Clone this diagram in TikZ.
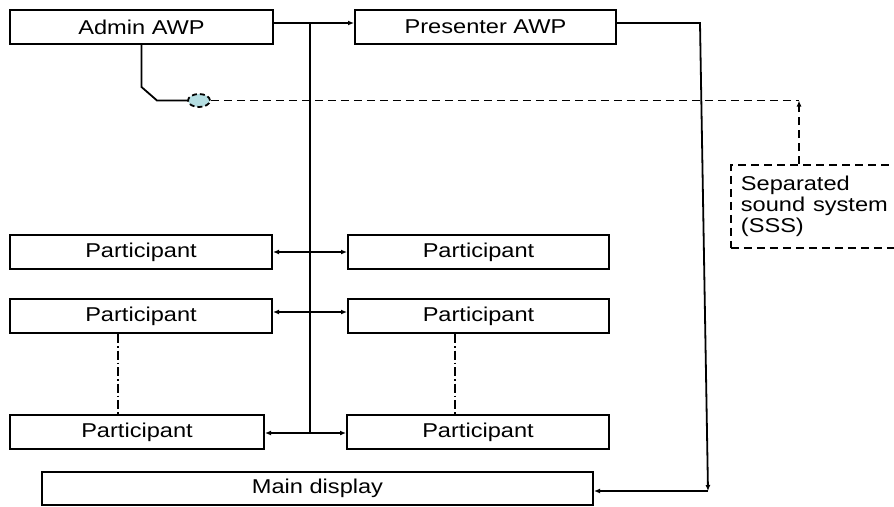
\documentclass[tikz,border=0pt]{standalone}
\usepackage{fontspec}
\usepackage{graphicx}
\setmainfont{Liberation Sans}
\usetikzlibrary{arrows.meta,shapes.geometric}
\newcommand\sx[1]{\scalebox{1.18}[1]{#1}}
\definecolor{lightcy}{HTML}{B5DEE2}
\begin{document}
\begin{tikzpicture}[x=1pt,y=-1pt,
  box/.style={draw,line width=2pt,inner sep=0pt,minimum height=34pt,font=\fontsize{20}{20}\selectfont},
  conn/.style={line width=1.8pt},
  tip/.style={-{Latex[length=6pt,width=5pt]}},
  btip/.style={{Latex[length=6pt,width=5pt]}-{Latex[length=6pt,width=5pt]}},
  dsh/.style={line width=1.8pt,dash pattern=on 8pt off 5pt},
  ddot/.style={line width=1.6pt,dash pattern=on 9pt off 3pt on 1.5pt off 3pt}]
\useasboundingbox (0,0) rectangle (894,506);
\fill[white] (0,0) rectangle (894,506);

\node[box,minimum width=263pt] (admin) at (141.5,27) {\sx{Admin AWP}};
\node[box,minimum width=261pt] (pres) at (485.5,27) {\sx{Presenter AWP}};

\node[box,minimum width=262pt] (p1l) at (141,252) {\sx{Participant}};
\node[box,minimum width=261pt] (p1r) at (478.5,252) {\sx{Participant}};
\node[box,minimum width=262pt] (p2l) at (141,316) {\sx{Participant}};
\node[box,minimum width=261pt] (p2r) at (478.5,316) {\sx{Participant}};
\node[box,minimum width=254pt] (p3l) at (137,432) {\sx{Participant}};
\node[box,minimum width=262pt] (p3r) at (478,432) {\sx{Participant}};

\node[box,minimum width=551pt,minimum height=33pt] (main) at (317.5,488.5) {\sx{Main display}};

\node[draw,dsh,anchor=north west,minimum width=200pt,minimum height=83pt,
  text width=180pt,inner xsep=9pt,inner ysep=0pt,align=left,
  font=\fontsize{20}{21}\selectfont] (sss) at (730,164)
  {\sx{Separated}\\\sx{sound system}\\\sx{(SSS)}};

\node[ellipse,draw,fill=lightcy,line width=1.8pt,dash pattern=on 5pt off 3pt,
  minimum width=22pt,minimum height=13pt,inner sep=0pt] (ell) at (199,100.5) {};

% coordinates
\coordinate (bt) at (310,23);
\coordinate (bb) at (310,433);
\coordinate (c1) at (700,23);
\coordinate (c2) at (708,491);
\coordinate (sc) at (799,100.5);
\coordinate (kink) at (141.5,87);
\coordinate (kink2) at (157,100.5);

% Admin -> Presenter
\draw[conn,tip] ([yshift=4pt]admin.east) -- ([yshift=4pt]pres.west);
% bus
\draw[conn,line width=2pt] (bt) -- (bb);
% participant links
\draw[conn,btip] (p1l.east) -- (p1r.west);
\draw[conn,btip] ([yshift=4pt]p2l.east) -- ([yshift=4pt]p2r.west);
\draw[conn,btip] ([yshift=-1pt]p3l.east) -- ([yshift=-1pt]p3r.west);
% presenter to main display
\draw[conn,tip] ([yshift=4pt]pres.east) -- (c1) -- (c2);
\draw[conn,tip] (c2) -- (main.east |- c2);
% admin to ellipse
\draw[conn] (admin.south) -- (kink) -- (kink2) -- (ell.west);
% dashed sound link
\draw[dsh] (ell.east) -- (sc);
\draw[dsh,tip] (sc |- sss.north) -- (sc);
% dash-dot continuation
\draw[ddot] ([xshift=-23pt]p2l.south) -- ([xshift=-23pt]p2l.south |- p3l.north);
\draw[ddot] ([xshift=-23.5pt]p2r.south) -- ([xshift=-23.5pt]p2r.south |- p3r.north);
\end{tikzpicture}
\end{document}
